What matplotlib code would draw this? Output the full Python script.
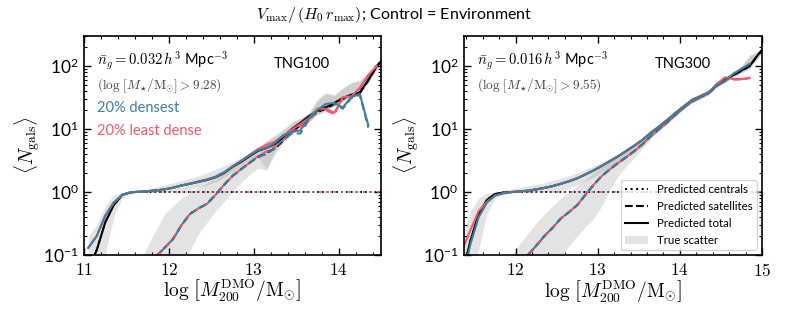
import matplotlib
matplotlib.use("Agg")
import matplotlib.pyplot as plt
import numpy as np
from matplotlib.lines import Line2D
from matplotlib.patches import Patch
from matplotlib.ticker import MultipleLocator, LogLocator, NullFormatter, FuncFormatter

plt.rcParams['mathtext.fontset'] = 'cm'
plt.rcParams['font.family'] = ['Lato', 'DejaVu Sans']

BLUE = '#3f7f9c'
RED = '#f5566e'

# ---------------- TNG100 (left) ----------------
m100 = [11.05, 11.15, 11.25, 11.35, 11.45, 11.55, 11.65, 11.75, 11.85, 11.95,
        12.05, 12.15, 12.25, 12.35, 12.45, 12.55, 12.65, 12.75, 12.85, 12.95,
        13.05, 13.15, 13.25, 13.35, 13.45, 13.55, 13.65, 13.75, 13.85, 13.95,
        14.05, 14.15, 14.25, 14.35, 14.45, 14.55]
tot100_k = [0.06, 0.12, 0.33, 0.62, 0.9, 0.99, 1.01, 1.03, 1.06, 1.1,
            1.17, 1.27, 1.35, 1.45, 1.55, 1.72, 2.0, 2.5, 3.0, 3.7,
            4.5, 5.0, 5.8, 7.5, 10.0, 12.5, 16.0, 19.5, 22.0, 26.0,
            31.0, 35.0, 38.0, 60.0, 100.0, 140.0]
tot100_r = [0.13, 0.2, 0.42, 0.68, 0.9, 0.99, 1.01, 1.03, 1.06, 1.1,
            1.17, 1.27, 1.36, 1.47, 1.58, 1.75, 2.05, 2.55, 3.1, 3.9,
            4.8, 5.6, 6.3, 7.8, 9.8, 12.0, 15.0, 21.0, 21.0, 18.0,
            32.0, 33.0, 45.0, 72.0, 100.0, np.nan]
tot100_b = [0.13, 0.2, 0.42, 0.68, 0.9, 0.99, 1.01, 1.03, 1.06, 1.1,
            1.17, 1.27, 1.36, 1.47, 1.58, 1.75, 2.05, 2.55, 3.1, 3.8,
            4.6, 5.0, 6.0, 8.0, 9.0, 9.5, 15.0, 20.0, 25.0, 26.0,
            22.0, 32.0, 36.0, 11.5, np.nan, np.nan]
sat100_k = [np.nan, np.nan, np.nan, np.nan, np.nan, np.nan, np.nan, np.nan, 0.095, 0.13,
            0.18, 0.3, 0.45, 0.55, 0.65, 0.9, 1.3, 1.8, 2.3, 2.9,
            3.6, 4.2, 4.9, 6.6, 9.0, 11.5, 15.0, 18.5, 21.0, 25.0,
            30.0, 34.0, 37.0, 59.0, 99.0, 139.0]
sat100_r = [np.nan, np.nan, np.nan, np.nan, np.nan, np.nan, np.nan, np.nan, 0.095, 0.13,
            0.18, 0.3, 0.45, 0.55, 0.65, 0.9, 1.3, 1.8, 2.3, 2.9,
            3.7, 4.4, 5.2, 6.8, 8.8, 11.0, 14.0, 20.0, 20.0, 17.0,
            31.0, 32.0, 44.0, 71.0, 99.0, np.nan]
sat100_b = [np.nan, np.nan, np.nan, np.nan, np.nan, np.nan, np.nan, np.nan, 0.095, 0.13,
            0.18, 0.3, 0.45, 0.55, 0.65, 0.9, 1.3, 1.8, 2.3, 2.9,
            3.6, 4.0, 5.0, 7.0, 8.5, 8.5, 14.0, 19.0, 24.0, 25.0,
            21.0, 31.0, 35.0, 10.5, np.nan, np.nan]
cen100 = [0.06, 0.12, 0.33, 0.62, 0.9, 0.99, 1.0, 1.0, 1.0, 1.0,
          1.0, 1.0, 1.0, 1.0, 1.0, 1.0, 1.0, 1.0, 1.0, 1.0,
          1.0, 1.0, 1.0, 1.0, 1.0, 1.0, 1.0, 1.0, 1.0, 1.0,
          1.0, 1.0, 1.0, 1.0, 1.0, 1.0]
totlo100 = [0.02, 0.05, 0.1, 0.4, 0.8, 0.95, 0.98, 1.0, 1.0, 1.0,
            1.02, 1.05, 1.1, 1.2, 1.3, 1.45, 1.7, 2.1, 2.6, 3.2,
            3.6, 2.3, 4.5, 6.5, 8.5, 11.0, 13.0, 17.0, 20.0, 24.0,
            28.0, 32.0, 40.0, 55.0, 90.0, 130.0]
tothi100 = [0.2, 0.3, 0.6, 0.9, 0.97, 1.02, 1.05, 1.1, 1.2, 1.3,
            1.4, 1.5, 1.65, 1.8, 2.0, 2.3, 2.6, 3.0, 3.5, 4.1,
            5.0, 6.5, 8.0, 10.0, 13.0, 15.0, 18.0, 30.0, 38.0, 35.0,
            45.0, 55.0, 60.0, 75.0, 110.0, 150.0]
satlo100 = [np.nan, np.nan, np.nan, np.nan, np.nan, np.nan, 0.01, 0.01, 0.01, 0.02,
            0.04, 0.07, 0.12, 0.22, 0.33, 0.5, 0.7, 1.0, 1.4, 1.9,
            2.4, 2.2, 4.0, 6.0, 8.0, 10.5, 13.0, 17.0, 19.0, 23.0,
            27.0, 31.0, 38.0, 54.0, 88.0, 128.0]
sathi100 = [np.nan, np.nan, np.nan, np.nan, np.nan, np.nan, 0.07, 0.14, 0.25, 0.45,
            0.6, 0.8, 1.0, 1.2, 1.4, 1.7, 2.1, 2.6, 3.2, 4.0,
            4.8, 6.5, 7.5, 9.5, 12.5, 14.5, 17.5, 28.0, 36.0, 34.0,
            44.0, 54.0, 58.0, 74.0, 108.0, 148.0]

# ---------------- TNG300 (right) ----------------
m300 = [11.35, 11.45, 11.55, 11.65, 11.75, 11.85, 11.95, 12.05, 12.15, 12.25,
        12.35, 12.45, 12.55, 12.65, 12.75, 12.85, 12.95, 13.05, 13.15, 13.25,
        13.35, 13.45, 13.55, 13.65, 13.75, 13.85, 13.95, 14.05, 14.15, 14.25,
        14.35, 14.45, 14.55, 14.65, 14.75, 14.85, 14.95, 15.05]
tot300_k = [0.05, 0.17, 0.45, 0.75, 0.93, 0.98, 1.0, 1.02, 1.05, 1.1,
            1.16, 1.24, 1.35, 1.48, 1.65, 1.9, 2.2, 2.6, 3.1, 3.7,
            4.5, 5.5, 6.8, 8.8, 11.0, 14.0, 18.0, 23.0, 29.0, 33.0,
            38.0, 50.0, 60.0, 72.0, 85.0, 100.0, 150.0, 210.0]
tot300_r = [0.12, 0.25, 0.5, 0.7, 0.88, 0.96, 1.0, 1.02, 1.05, 1.1,
            1.16, 1.24, 1.35, 1.48, 1.65, 1.9, 2.2, 2.6, 3.1, 3.7,
            4.5, 5.5, 6.8, 8.8, 11.0, 14.0, 18.0, 23.0, 29.0, 33.0,
            38.0, 52.0, 66.0, 62.0, 62.0, 65.0, np.nan, np.nan]
tot300_b = [0.04, 0.15, 0.4, 0.68, 0.88, 0.95, 0.99, 1.02, 1.05, 1.1,
            1.16, 1.24, 1.35, 1.48, 1.65, 1.9, 2.2, 2.6, 3.1, 3.7,
            4.5, 5.5, 6.8, 8.8, 11.0, 14.0, 18.0, 23.0, 28.0, 33.0,
            38.0, 50.0, 58.0, 75.0, 90.0, 108.0, np.nan, np.nan]
sat300_k = [np.nan, np.nan, np.nan, np.nan, np.nan, np.nan, np.nan, np.nan, 0.1, 0.14,
            0.2, 0.27, 0.38, 0.48, 0.62, 0.9, 1.3, 1.8, 2.3, 2.9,
            3.6, 4.5, 5.8, 7.8, 10.0, 13.0, 17.0, 22.0, 28.0, 32.0,
            37.0, 49.0, 59.0, 71.0, 84.0, 99.0, 149.0, 209.0]
sat300_r = [np.nan, np.nan, np.nan, np.nan, np.nan, np.nan, np.nan, np.nan, 0.1, 0.14,
            0.2, 0.27, 0.38, 0.48, 0.62, 0.9, 1.3, 1.8, 2.3, 2.9,
            3.6, 4.5, 5.8, 7.8, 10.0, 13.0, 17.0, 22.0, 28.0, 32.0,
            37.0, 51.0, 65.0, 61.0, 61.0, 64.0, np.nan, np.nan]
sat300_b = [np.nan, np.nan, np.nan, np.nan, np.nan, np.nan, np.nan, np.nan, 0.1, 0.14,
            0.2, 0.27, 0.38, 0.48, 0.62, 0.9, 1.3, 1.8, 2.3, 2.9,
            3.6, 4.5, 5.8, 7.8, 10.0, 13.0, 17.0, 22.0, 27.0, 32.0,
            37.0, 49.0, 57.0, 74.0, 89.0, 107.0, np.nan, np.nan]
cen300 = [0.05, 0.17, 0.45, 0.75, 0.93, 0.98, 1.0, 1.0, 1.0, 1.0,
          1.0, 1.0, 1.0, 1.0, 1.0, 1.0, 1.0, 1.0, 1.0, 1.0,
          1.0, 1.0, 1.0, 1.0, 1.0, 1.0, 1.0, 1.0, 1.0, 1.0,
          1.0, 1.0, 1.0, 1.0, 1.0, 1.0, 1.0, 1.0]
totlo300 = [0.02, 0.05, 0.12, 0.45, 0.8, 0.92, 0.98, 1.0, 1.0, 1.01,
            1.02, 1.03, 1.05, 1.15, 1.3, 1.5, 1.7, 2.1, 2.5, 3.0,
            3.6, 4.5, 5.6, 7.6, 9.8, 12.5, 16.0, 21.0, 26.0, 30.0,
            35.0, 46.0, 55.0, 66.0, 78.0, 92.0, 135.0, 190.0]
tothi300 = [0.2, 0.5, 0.8, 0.95, 1.0, 1.05, 1.12, 1.18, 1.25, 1.32,
            1.4, 1.52, 1.65, 1.8, 2.0, 2.3, 2.6, 3.0, 3.4, 4.0,
            4.6, 5.5, 6.9, 9.5, 12.0, 15.5, 20.0, 25.0, 32.0, 37.0,
            42.0, 56.0, 68.0, 82.0, 100.0, 150.0, 170.0, 230.0]
satlo300 = [np.nan, np.nan, np.nan, np.nan, np.nan, np.nan, 0.01, 0.01, 0.01, 0.01,
            0.02, 0.05, 0.09, 0.14, 0.2, 0.28, 0.38, 0.6, 1.1, 1.8,
            2.6, 3.6, 5.0, 7.0, 9.5, 12.0, 16.0, 21.0, 26.0, 30.0,
            35.0, 46.0, 55.0, 66.0, 78.0, 92.0, 135.0, 190.0]
sathi300 = [np.nan, np.nan, np.nan, np.nan, np.nan, np.nan, 0.1, 0.15, 0.22, 0.32,
            0.45, 0.6, 0.8, 1.0, 1.25, 1.6, 2.0, 2.5, 3.0, 3.6,
            4.4, 5.4, 6.5, 8.5, 11.5, 15.0, 19.5, 24.5, 31.0, 36.0,
            41.0, 55.0, 67.0, 80.0, 98.0, 145.0, 165.0, 225.0]

panels = [
    dict(m=m100, tk=tot100_k, tr=tot100_r, tb=tot100_b, sk=sat100_k, sr=sat100_r, sb=sat100_b,
         cen=cen100, tlo=totlo100, thi=tothi100, slo=satlo100, shi=sathi100,
         xlim=(11, 14.5), xticks=[11, 12, 13, 14], name='TNG100',
         ng=r'$\bar{n}_g = 0.032\,h^3$ Mpc$^{-3}$',
         cut=r'$(\log\,[M_{\star}/\mathrm{M}_{\odot}] > 9.28)$'),
    dict(m=m300, tk=tot300_k, tr=tot300_r, tb=tot300_b, sk=sat300_k, sr=sat300_r, sb=sat300_b,
         cen=cen300, tlo=totlo300, thi=tothi300, slo=satlo300, shi=sathi300,
         xlim=(11.37, 15), xticks=[12, 13, 14, 15], name='TNG300',
         ng=r'$\bar{n}_g = 0.016\,h^3$ Mpc$^{-3}$',
         cut=r'$(\log\,[M_{\star}/\mathrm{M}_{\odot}] > 9.55)$'),
]

fig = plt.figure(figsize=(7.89, 3.29), dpi=100)
axes = [fig.add_axes([0.1065, 0.225, 0.3764, 0.6657]),
        fig.add_axes([0.588, 0.225, 0.3777, 0.6657])]

for ax, p in zip(axes, panels):
    m = np.array(p['m'])
    ax.fill_between(m, p['tlo'], p['thi'], color='grey', alpha=0.22, lw=0)
    ax.fill_between(m, p['slo'], p['shi'], color='grey', alpha=0.22, lw=0)

    # centrals
    ax.plot(m, p['cen'], color='k', ls=':', lw=1.3)
    ax.plot(m, p['cen'], color=RED, ls=(1, (1, 3)), lw=1.3)
    ax.plot(m, p['cen'], color=BLUE, ls=(3, (1, 3)), lw=1.0, alpha=0.6)
    # satellites
    ax.plot(m, p['sk'], color='k', ls='--', lw=1.5)
    ax.plot(m, p['sr'], color=RED, ls=(0, (3.5, 2)), lw=1.5)
    ax.plot(m, p['sb'], color=BLUE, ls=(2, (3.5, 2)), lw=1.5)
    # total
    ax.plot(m, p['tk'], color='k', lw=1.5)
    ax.plot(m, p['tr'], color=RED, lw=1.5)
    ax.plot(m, p['tb'], color=BLUE, lw=1.5)

    ax.set_yscale('log')
    ax.set_ylim(0.1, 300)
    ax.set_xlim(*p['xlim'])
    ax.set_xticks(p['xticks'])
    ax.xaxis.set_major_formatter(FuncFormatter(lambda v, pos: r'$%d$' % round(v)))
    ax.xaxis.set_minor_locator(MultipleLocator(0.2))
    ax.yaxis.set_minor_locator(LogLocator(base=10, subs=np.arange(2, 10)))
    ax.yaxis.set_minor_formatter(NullFormatter())
    ax.tick_params(which='both', direction='in', top=True, right=True, labelsize=12.5)
    ax.tick_params(which='major', length=5, width=1)
    ax.tick_params(which='minor', length=2.5, width=0.8)
    ax.tick_params(axis='x', which='major', pad=5)
    ax.tick_params(axis='y', which='major', pad=4)
    for s in ax.spines.values():
        s.set_linewidth(1.2)
    ax.set_xlabel(r'$\log\,\left[M_{200}^{\mathrm{DMO}}/\mathrm{M}_{\odot}\right]$', fontsize=14, labelpad=0)
    ax.set_ylabel(r'$\langle N_{\mathrm{gals}}\rangle$', fontsize=14, labelpad=1)

    ax.text(0.045, 0.885, p['ng'], transform=ax.transAxes, fontsize=10.5, va='center')
    ax.text(0.045, 0.775, p['cut'], transform=ax.transAxes, fontsize=9.5, va='center', color='#444444')
    ax.text(0.735, 0.87, p['name'], transform=ax.transAxes, fontsize=10.5, va='center', ha='center')

axes[0].text(0.045, 0.67, '20% densest', transform=axes[0].transAxes, fontsize=10.5,
             va='center', color=BLUE)
axes[0].text(0.045, 0.565, '20% least dense', transform=axes[0].transAxes, fontsize=10.5,
             va='center', color=RED)

handles = [Line2D([], [], color='k', ls=':', lw=1.5),
           Line2D([], [], color='k', ls='--', lw=1.5),
           Line2D([], [], color='k', ls='-', lw=1.5),
           Patch(facecolor='grey', alpha=0.22, lw=0)]
labels = ['Predicted centrals', 'Predicted satellites', 'Predicted total', 'True scatter']
axes[1].legend(handles, labels, loc='lower right', fontsize=8.3, frameon=True,
               handlelength=2.0, labelspacing=0.5, borderaxespad=0.45, framealpha=0.8,
               borderpad=0.35, handletextpad=0.8)

fig.suptitle(r'$V_{\mathrm{max}}/\,(H_0\,r_{\mathrm{max}})$; Control = Environment',
             x=0.5, y=0.985, fontsize=11.5)

fig.savefig('out.png', dpi=100)
